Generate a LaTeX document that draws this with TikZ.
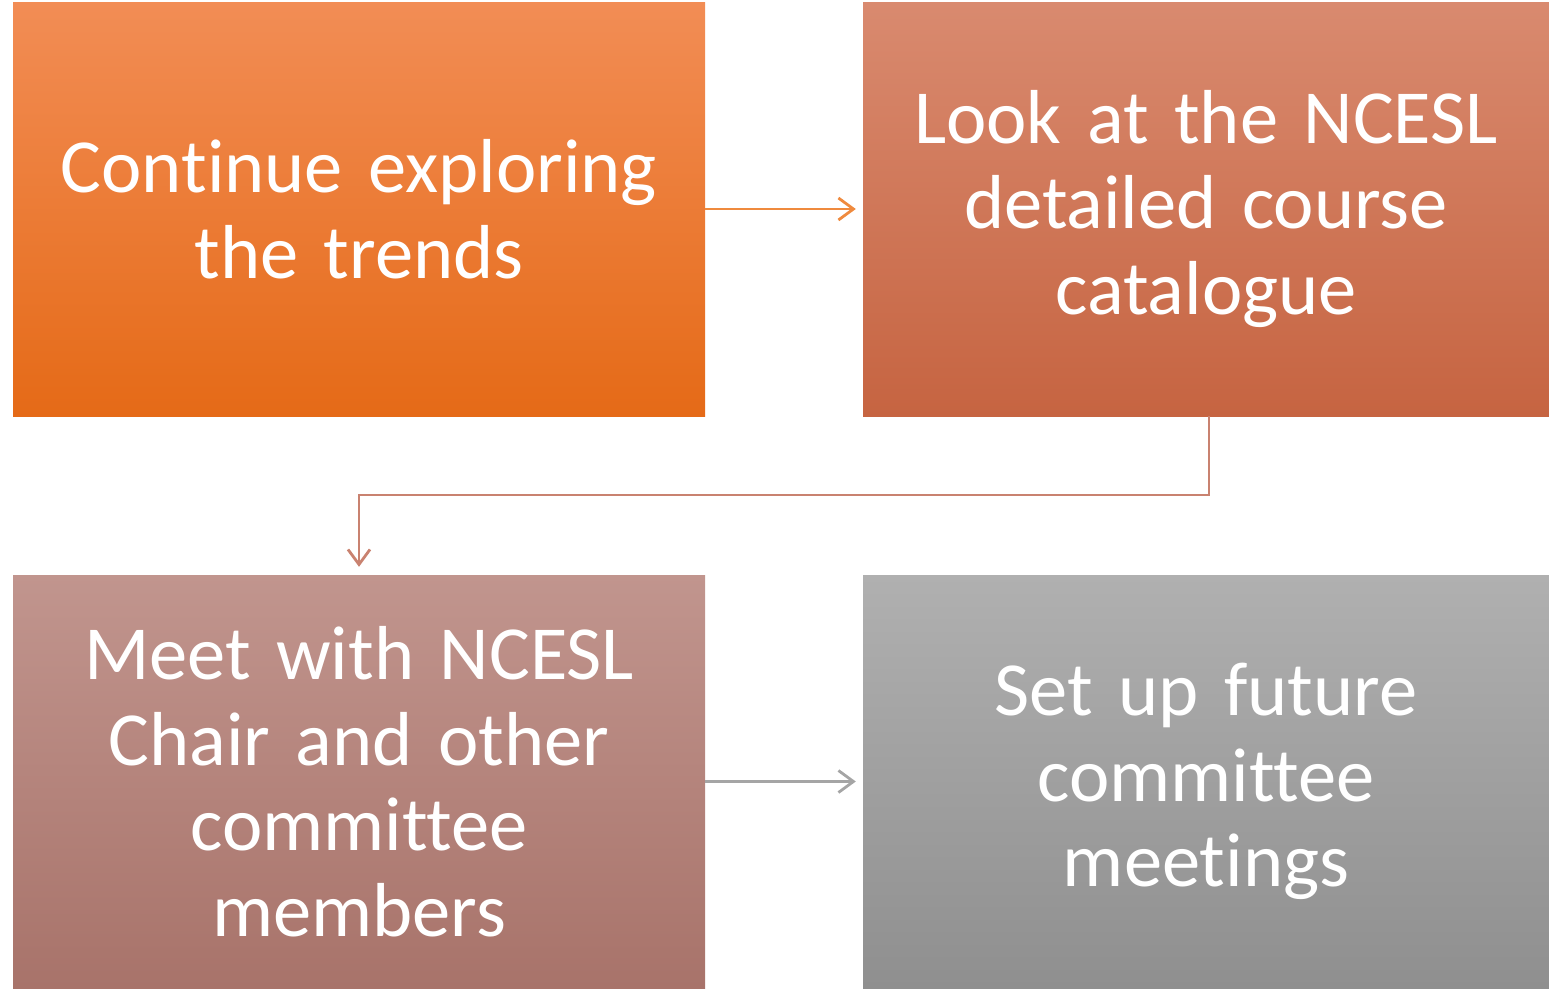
\documentclass[tikz,border=0pt]{standalone}
\usepackage{fontspec}
\setmainfont[Ligatures=NoCommon]{Carlito}
\usetikzlibrary{arrows.meta,positioning}
\definecolor{tlTop}{HTML}{F28D55}
\definecolor{tlBot}{HTML}{E56A17}
\definecolor{trTop}{HTML}{D98A6F}
\definecolor{trBot}{HTML}{C66441}
\definecolor{blTop}{HTML}{C1958E}
\definecolor{blBot}{HTML}{A8736A}
\definecolor{brTop}{HTML}{B0B0B0}
\definecolor{brBot}{HTML}{8F8F8F}
\definecolor{arrA}{HTML}{EF8A3E}
\definecolor{arrB}{HTML}{C98270}
\definecolor{arrC}{HTML}{A5A5A5}
\tikzset{
  stepbox/.style={minimum width=692pt, minimum height=414pt, inner sep=0pt,
    text width=680pt, align=center, text=white,
    font=\fontsize{76.5}{85.5}\selectfont,
    execute at begin node={\fontdimen2\font=0.16em\relax}},
  link/.style={line width=2.8pt, -{Straight Barb[length=15pt,width=22pt,line width=2.8pt]}}
}
\begin{document}
\begin{tikzpicture}[x=1pt,y=-1pt]
\useasboundingbox (0,0) rectangle (1549,988);
\node[stepbox, top color=tlTop, bottom color=tlBot] (a) at (359,209) {Continue exploring\\ the trends};
\node[stepbox, minimum width=686pt, top color=trTop, bottom color=trBot] (b) at (1206,209) {Look at the NCESL\\ detailed course\\ catalogue};
\node[stepbox, minimum height=413pt, top color=blTop, bottom color=blBot] (c) at (359,781.5) {Meet with NCESL\\ Chair and other\\ committee\\ members};
\node[stepbox, minimum width=686pt, minimum height=413pt, top color=brTop, bottom color=brBot] (d) at (1206,781.5) {Set up future\\ committee\\ meetings};
\coordinate (bend) at (1209,495);
\draw[link, arrA] (a.east) -- ([xshift=-7pt]b.west);
\draw[link, arrB] (b.south -| bend) -- (bend) -| ([yshift=8pt]c.north);
\draw[link, arrC] (c.east) -- ([xshift=-7pt]d.west);
\end{tikzpicture}
\end{document}
